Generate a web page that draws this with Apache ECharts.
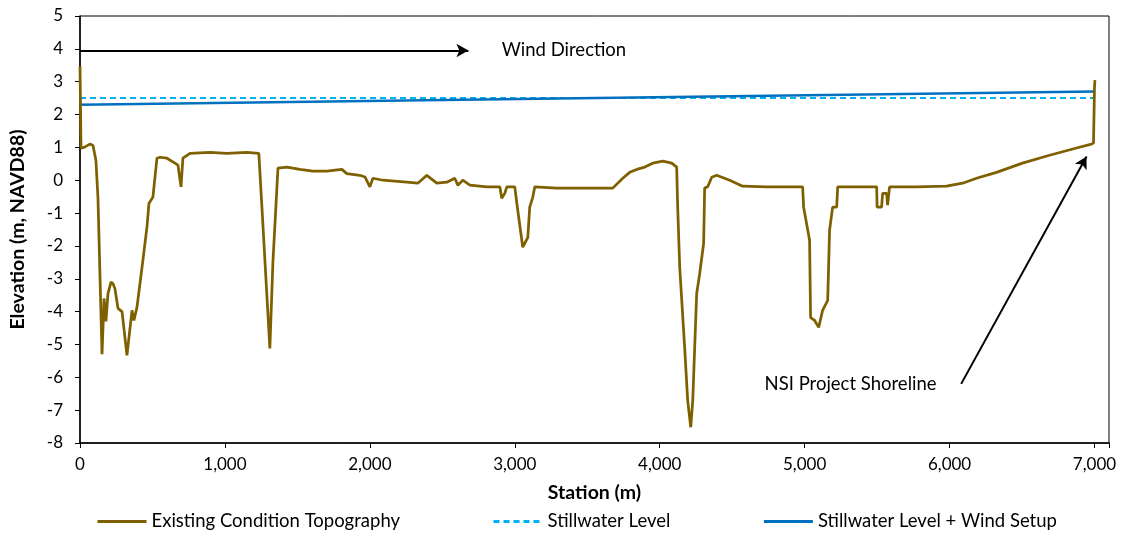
<!DOCTYPE html>
<html>
<head>
<meta charset="utf-8">
<script src="https://cdn.jsdelivr.net/npm/echarts@6/dist/echarts.min.js"></script>
<style>
  html, body { margin: 0; padding: 0; background: #fff; }
  #chart { width: 1123px; height: 533px; }
</style>
</head>
<body>
<div id="chart"></div>
<script>
// topography profile, station (m) / elevation (m, NAVD88)
var topoStation = [0, 7, 28, 69, 90, 110, 124, 152, 166, 179, 193, 214, 228, 241, 262, 290, 324, 359, 372, 393,
  428, 462, 476, 503, 531, 552, 600, 655, 676, 697, 710, 759, 897, 1014, 1152, 1234, 1255, 1310, 1331, 1366,
  1428, 1517, 1607, 1703, 1807, 1841, 1931, 1966, 2000, 2021, 2090, 2255, 2331, 2393, 2462, 2531, 2586, 2607, 2641, 2690,
  2807, 2897, 2910, 2931, 2945, 3000, 3014, 3055, 3090, 3103, 3124, 3138, 3290, 3538, 3676, 3745, 3793, 3841, 3897, 3952,
  4021, 4083, 4117, 4124, 4138, 4172, 4193, 4214, 4228, 4255, 4276, 4303, 4310, 4331, 4359, 4393, 4483, 4572, 4738, 4986,
  4993, 5034, 5041, 5069, 5097, 5124, 5159, 5172, 5193, 5221, 5228, 5497, 5500, 5531, 5538, 5566, 5572, 5586, 5772, 5979,
  6090, 6186, 6324, 6503, 6690, 6876, 6979, 6993, 7000, 7003];
var topoElev = [3.48, 0.98, 1.0, 1.1, 1.06, 0.6, -0.55, -5.3, -3.6, -4.3, -3.45, -3.1, -3.15, -3.3, -3.9, -4.0, -5.33, -3.96, -4.27, -3.87,
  -2.65, -1.43, -0.7, -0.52, 0.67, 0.7, 0.67, 0.52, 0.46, -0.2, 0.67, 0.82, 0.85, 0.82, 0.85, 0.82, -0.8, -5.12, -2.5, 0.37,
  0.4, 0.33, 0.28, 0.28, 0.33, 0.2, 0.15, 0.1, -0.2, 0.06, 0.0, -0.06, -0.09, 0.15, -0.09, -0.06, 0.06, -0.15, 0.0, -0.15,
  -0.2, -0.2, -0.55, -0.4, -0.2, -0.2, -0.7, -2.04, -1.74, -0.82, -0.52, -0.2, -0.24, -0.24, -0.24, 0.06, 0.24, 0.33, 0.4, 0.52,
  0.58, 0.52, 0.4, -0.82, -2.65, -5.09, -6.7, -7.52, -6.7, -3.45, -2.84, -1.92, -0.24, -0.2, 0.09, 0.15, 0.0, -0.18, -0.2, -0.2,
  -0.82, -1.83, -4.18, -4.27, -4.48, -3.96, -3.66, -1.52, -0.82, -0.82, -0.2, -0.2, -0.82, -0.82, -0.4, -0.4, -0.76, -0.2, -0.2, -0.18,
  -0.09, 0.06, 0.24, 0.52, 0.76, 0.98, 1.1, 1.13, 2.84, 3.05];

var swlStation = [0, 7000];
var swlElev = [2.5, 2.5];
var setupStation = [0, 7000];
var setupElev = [2.3, 2.7];

var seriesNames = ['Existing Condition Topography', 'Stillwater Level', 'Stillwater Level + Wind Setup'];

// annotation arrows [start, end] in station/elevation
var windArrow = [[0, 3.95], [2680, 3.95]];
var windLabel = [2910, 3.95];      // text starts here
var shoreArrow = [[6080, -6.2], [6945, 0.72]];
var shoreLabel = [5910, -6.2];     // text ends here

function pairs (xs, ys) {
  var out = [];
  for (var i = 0; i < xs.length; i++) out.push([xs[i], ys[i]]);
  return out;
}

var FONT = 'Lato';
var chart = echarts.init(document.getElementById('chart'));

var option = {
  animation: false,
  textStyle: { fontFamily: FONT },
  grid: {
    left: 80, top: 16, right: 14, bottom: 90,
    show: true, borderColor: '#000', borderWidth: 1
  },
  legend: {
    data: seriesNames,
    left: 91, top: 507,
    itemWidth: 49, itemHeight: 14, itemGap: 92,
    itemStyle: { opacity: 0 },
    lineStyle: { width: 3 },
    textStyle: { fontFamily: FONT, fontSize: 18.5, color: '#000' }
  },
  xAxis: {
    type: 'value', min: 0, max: 7100, interval: 1000,
    name: 'Station (m)', nameLocation: 'middle', nameGap: 40,
    nameTextStyle: { fontFamily: FONT, fontSize: 19.5, fontWeight: 'bold', color: '#000' },
    axisLine: { onZero: false, lineStyle: { color: '#000', width: 1.5 } },
    axisTick: { show: true, length: 5, lineStyle: { color: '#000' } },
    axisLabel: {
      margin: 13, fontSize: 17, color: '#000', fontFamily: FONT,
      formatter: function (v) { return v > 7000 ? '' : v.toLocaleString('en-US'); }
    },
    splitLine: { show: false }
  },
  yAxis: {
    type: 'value', min: -8, max: 5, interval: 1,
    name: 'Elevation (m, NAVD88)', nameLocation: 'middle', nameGap: 52,
    nameTextStyle: { fontFamily: FONT, fontSize: 19.5, fontWeight: 'bold', color: '#000' },
    axisLine: { show: true, onZero: false, lineStyle: { color: '#000', width: 1.5 } },
    axisTick: { show: true, length: 5, lineStyle: { color: '#000' } },
    axisLabel: { margin: 17, fontSize: 17, color: '#000', fontFamily: FONT },
    splitLine: { show: false }
  },
  series: [
    {
      name: seriesNames[0], type: 'line', z: 5,
      data: pairs(topoStation, topoElev),
      symbol: 'none',
      lineStyle: { color: '#7F6000', width: 2.75 },
      itemStyle: { color: '#7F6000' }
    },
    {
      name: seriesNames[1], type: 'line', z: 3,
      data: pairs(swlStation, swlElev),
      symbol: 'none',
      lineStyle: { color: '#00B0F0', width: 2, type: [6, 4] },
      itemStyle: { color: '#00B0F0' }
    },
    {
      name: seriesNames[2], type: 'line', z: 4,
      data: pairs(setupStation, setupElev),
      symbol: 'none',
      lineStyle: { color: '#0070C0', width: 2.5 },
      itemStyle: { color: '#0070C0' }
    },
    {
      // annotations (not in legend)
      name: 'annot', type: 'line', data: [], z: 6,
      markLine: {
        silent: true,
        symbol: ['none', 'arrow'],
        symbolSize: [10, 12],
        lineStyle: { color: '#000', width: 2, type: 'solid' },
        label: { show: false },
        data: [
          [{ coord: windArrow[0] }, { coord: windArrow[1] }],
          [{ coord: shoreArrow[0] }, { coord: shoreArrow[1] }]
        ]
      },
      markPoint: {
        silent: true,
        symbol: 'circle', symbolSize: 0,
        label: {
          show: true, distance: 0,
          color: '#000', fontSize: 18.5, fontFamily: FONT,
          formatter: function (p) { return p.name; }
        },
        data: [
          { name: 'Wind Direction', coord: windLabel, label: { position: 'right' } },
          { name: 'NSI Project Shoreline', coord: shoreLabel, label: { position: 'left' } }
        ]
      }
    }
  ]
};

chart.setOption(option);
</script>
</body>
</html>
